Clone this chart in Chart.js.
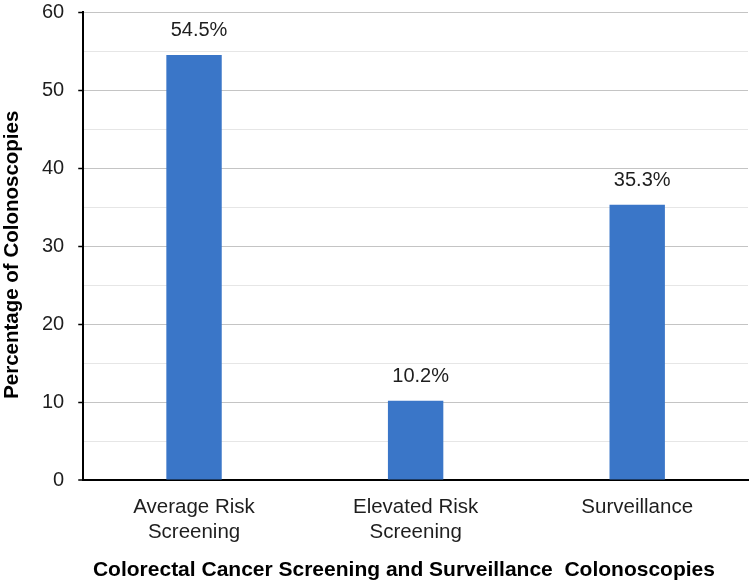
<!DOCTYPE html>
<html>
<head>
<meta charset="utf-8">
<title>Colonoscopies by indication</title>
<script src="https://cdn.jsdelivr.net/npm/chart.js@4/dist/chart.umd.min.js"></script>
<style>
  html, body { margin: 0; padding: 0; background: #fff; }
  #wrap { width: 752px; height: 583px; position: relative; }
</style>
</head>
<body>
<div id="wrap"><canvas id="colonChart"></canvas></div>
<script>
// Chart data
const categories = [["Average Risk", "Screening"], ["Elevated Risk", "Screening"], "Surveillance"];
const percentages = [54.5, 10.2, 35.3];
const yTicks = [0, 10, 20, 30, 40, 50, 60];

const FONT = '"Liberation Sans", Arial, sans-serif';
const TEXT = "#1e1e1e";

// Value labels above each bar (sit a little right of centre, like the original)
const barValueLabels = {
  id: "barValueLabels",
  afterDatasetsDraw(chart) {
    const ctx = chart.ctx;
    const meta = chart.getDatasetMeta(0);
    ctx.save();
    ctx.font = "20px " + FONT;
    ctx.fillStyle = TEXT;
    ctx.textAlign = "center";
    ctx.textBaseline = "alphabetic";
    meta.data.forEach((bar, i) => {
      ctx.fillText(percentages[i].toFixed(1) + "%", bar.x + 5, bar.y - 19);
    });
    ctx.restore();
  }
};

const isMajor = v => yTicks.includes(v);

new Chart(document.getElementById("colonChart"), {
  type: "bar",
  data: {
    labels: categories,
    datasets: [{
      data: percentages,
      backgroundColor: "#3a76c8",
      barPercentage: 0.25,
      categoryPercentage: 1
    }]
  },
  options: {
    responsive: true,
    maintainAspectRatio: false,
    animation: false,
    layout: { padding: { top: 0, right: 4, bottom: 0, left: 0 } },
    plugins: { legend: { display: false }, tooltip: { enabled: false } },
    scales: {
      x: {
        // invisible tick marks give the gap under the axis
        grid: { display: true, drawOnChartArea: false, drawTicks: true, tickLength: 14, tickColor: "rgba(0,0,0,0)" },
        border: { color: "#000", width: 2 },
        ticks: { color: TEXT, font: { family: FONT, size: 20.5, lineHeight: 1.24 }, padding: 0, maxRotation: 0 },
        title: {
          display: true,
          text: "Colorectal Cancer Screening and Surveillance  Colonoscopies    ",
          color: "#000",
          font: { family: FONT, size: 21, weight: "bold" },
          padding: { top: 12.5, bottom: 0 }
        }
      },
      y: {
        min: 0,
        max: 60,
        ticks: {
          stepSize: 5,
          color: TEXT,
          font: { family: FONT, size: 20 },
          padding: 0,
          callback: v => (isMajor(v) ? v : "")
        },
        grid: {
          color: c => (c.tick.value === 0 ? "#000" : isMajor(c.tick.value) ? "#c4c4c4" : "#e6e6e6"),
          lineWidth: c => (c.tick.value === 0 ? 2 : 1),
          tickColor: c => (isMajor(c.tick.value) ? "#000" : "rgba(0,0,0,0)"),
          tickLength: 19,
          tickWidth: 1.5,
          // only the 5px next to the axis is visible
          tickBorderDash: [5, 14],
          tickBorderDashOffset: 5
        },
        border: { color: "#000", width: 2 },
        title: {
          display: true,
          text: "Percentage of Colonoscopies   ",
          color: "#000",
          font: { family: FONT, size: 20.5, weight: "bold" },
          padding: { top: 0, bottom: 17.4 }
        }
      }
    }
  },
  plugins: [barValueLabels]
});
</script>
</body>
</html>
